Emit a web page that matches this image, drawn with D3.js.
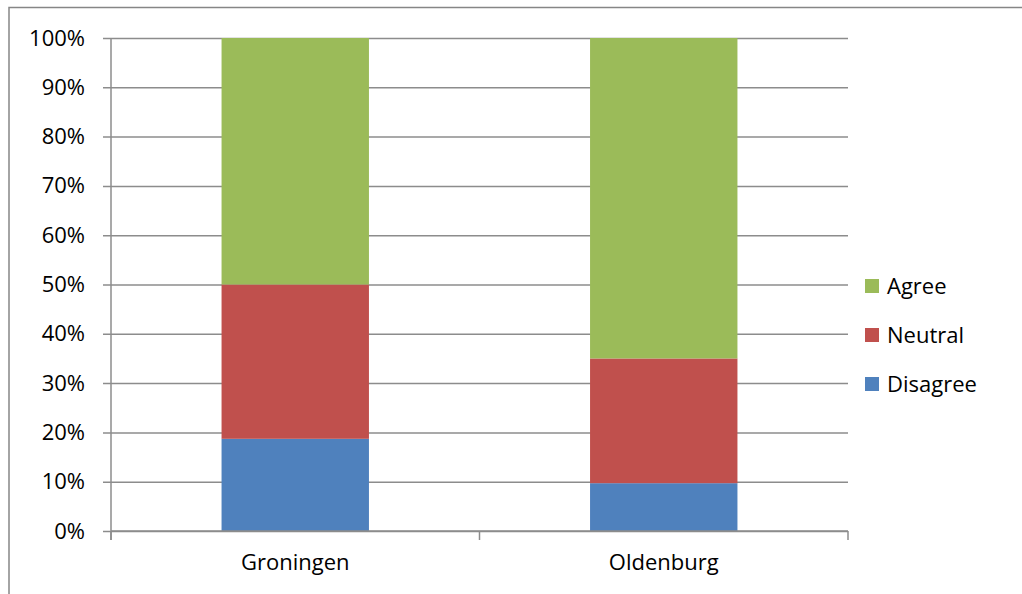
<!DOCTYPE html>
<html>
<head>
<meta charset="utf-8">
<script src="https://cdn.jsdelivr.net/npm/d3@7"></script>
<style>
  body { margin: 0; background: #fff; }
  svg { display: block; }
  svg text { font-family: "Open Sans", sans-serif; }
</style>
</head>
<body>
<div class="chart-container"></div>
<script>
// data
const cities = ["Groningen", "Oldenburg"];
const answers = ["Disagree", "Neutral", "Agree"];
const disagree = [0.187, 0.097];
const neutral = [0.313, 0.253];
const agree = [0.5, 0.65];
const yTicks = [0, 0.1, 0.2, 0.3, 0.4, 0.5, 0.6, 0.7, 0.8, 0.9, 1];
const colors = ["#4F81BD", "#C0504D", "#9BBB59"];

const width = 1022;
const height = 594;
const margin = { top: 38, right: 174, bottom: 63, left: 111 };
const fontSize = 22;

const rows = cities.map((c, i) => ({
  city: c,
  Disagree: disagree[i],
  Neutral: neutral[i],
  Agree: agree[i],
}));

const svg = d3
  .select(".chart-container")
  .append("svg")
  .attr("width", width)
  .attr("height", height);

// outer chart border (top + left visible)
svg
  .append("path")
  .attr("d", `M9,${height} V7.5 H${width}`)
  .attr("fill", "none")
  .attr("stroke", "#868686")
  .attr("stroke-width", 1.5);

const x = d3
  .scaleBand()
  .domain(cities)
  .range([margin.left, width - margin.right])
  .paddingInner(0.6)
  .paddingOuter(0.3);

const y = d3
  .scaleLinear()
  .domain([0, 1])
  .range([height - margin.bottom, margin.top]);

// gridlines + y axis
const yAxis = d3
  .axisLeft(y)
  .tickValues(yTicks)
  .tickFormat(d3.format(".0%"))
  .tickSize(-(width - margin.right - margin.left))
  .tickPadding(0);

const gy = svg
  .append("g")
  .attr("transform", `translate(${margin.left},0)`)
  .call(yAxis)
  .attr("font-family", "Open Sans")
  .attr("font-size", fontSize);
gy.select(".domain").remove();
gy.selectAll(".tick line")
  .attr("x1", -8)
  .attr("stroke", "#8c8c8c")
  .attr("stroke-width", 1.5);
gy.selectAll(".tick text").attr("x", -26).attr("fill", "#000");

// stacked bars
const series = d3.stack().keys(answers)(rows);

svg
  .append("g")
  .selectAll("g")
  .data(series)
  .join("g")
  .attr("fill", (d, i) => colors[i])
  .selectAll("rect")
  .data((d) => d)
  .join("rect")
  .attr("x", (d) => x(d.data.city))
  .attr("y", (d) => y(d[1]))
  .attr("width", x.bandwidth())
  .attr("height", (d) => y(d[0]) - y(d[1]));

// left axis line
svg
  .append("line")
  .attr("x1", margin.left)
  .attr("x2", margin.left)
  .attr("y1", y(1))
  .attr("y2", y(0) + 9)
  .attr("stroke", "#8c8c8c")
  .attr("stroke-width", 1.5);

// x axis
const gx = svg
  .append("g")
  .attr("transform", `translate(0,${y(0)})`)
  .call(d3.axisBottom(x).tickSize(0).tickPadding(23))
  .attr("font-family", "Open Sans")
  .attr("font-size", fontSize);
gx.select(".domain")
  .attr("d", `M${margin.left},0H${width - margin.right}`)
  .attr("stroke", "#8c8c8c")
  .attr("stroke-width", 1.5);
gx.selectAll(".tick text").attr("fill", "#000");

// category separators
const edges = [x.range()[0], (x.range()[0] + x.range()[1]) / 2, x.range()[1]];
gx.selectAll(".sep")
  .data(edges)
  .join("line")
  .attr("class", "sep")
  .attr("x1", (d) => d)
  .attr("x2", (d) => d)
  .attr("y1", 0)
  .attr("y2", 9)
  .attr("stroke", "#8c8c8c")
  .attr("stroke-width", 1.5);

// legend
const legend = svg
  .append("g")
  .attr("transform", `translate(865,286)`)
  .selectAll("g")
  .data(answers.slice().reverse())
  .join("g")
  .attr("transform", (d, i) => `translate(0,${i * 49})`);

legend
  .append("rect")
  .attr("x", 0)
  .attr("y", -7)
  .attr("width", 14)
  .attr("height", 14)
  .attr("fill", (d) => colors[answers.indexOf(d)]);

legend
  .append("text")
  .attr("x", 22)
  .attr("dy", "0.35em")
  .attr("font-size", fontSize)
  .text((d) => d);
</script>
</body>
</html>
